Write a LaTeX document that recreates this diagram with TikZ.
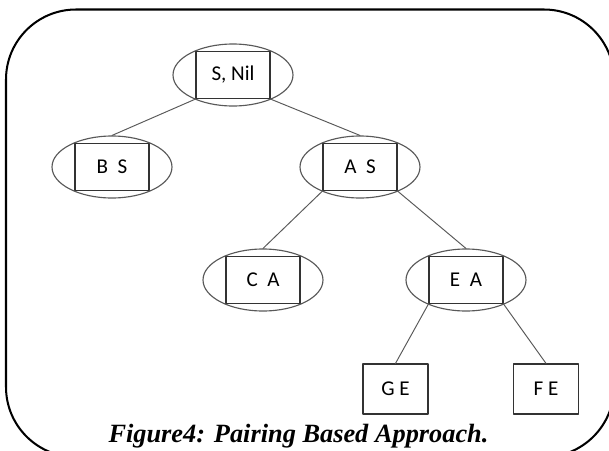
\documentclass[tikz,border=0pt]{standalone}
\usepackage{fontspec}
\setmainfont{Liberation Serif}
\newfontfamily\calib{Carlito}
\usetikzlibrary{shapes.geometric}

\begin{document}
\begin{tikzpicture}[x=0.02cm, y=-0.02cm, line join=round, line cap=round,
	oval/.style={ellipse, draw=black!65, line width=0.65pt, minimum width=2.4cm, minimum height=1.24cm, inner sep=0pt},
	pairbox/.style={draw=black!80, line width=0.7pt, minimum width=1.48cm, minimum height=0.94cm, inner sep=0pt, font=\calib\fontsize{12}{14}\selectfont},
	leafbox/.style={pairbox, minimum width=1.3cm, minimum height=1cm},
	edge/.style={draw=black!65, line width=0.55pt}]
	\useasboundingbox (0,0) rectangle (609,450);
	\begin{scope}
		\clip (0,0) rectangle (609,450);
		\draw[line width=1.15pt, rounded corners=1.4cm] (6,9.5) rectangle (614,457); % khung ngoai
	\end{scope}
	\coordinate (SN) at (233,75);
	\coordinate (BS) at (112,167);
	\coordinate (AS) at (360,167);
	\coordinate (CA) at (263,280);
	\coordinate (EA) at (466,280);
	\coordinate (GE) at (395.5,389);
	\coordinate (FE) at (546,389);
	% cac hinh elip
	\node[oval] (sn-o) at (SN) {};
	\node[oval] (bs-o) at (BS) {};
	\node[oval] (as-o) at (AS) {};
	\node[oval] (ca-o) at (CA) {};
	\node[oval] (ea-o) at (EA) {};
	% cac cap
	\node[pairbox] (sn) at (SN) {S, Nil};
	\node[pairbox] (bs) at (BS) {B~~S};
	\node[pairbox] (as) at (AS) {A~~S};
	\node[pairbox] (ca) at (CA) {C~~A};
	\node[pairbox] (ea) at (EA) {E~~A};
	\node[leafbox] (ge) at (GE) {G E};
	\node[leafbox] (fe) at (FE) {F E};
	% cac canh
	\draw[edge] (sn.south west) -- (bs-o.north);
	\draw[edge] (sn.south east) -- (as-o.north);
	\draw[edge] (as.south west) -- (ca-o.north);
	\draw[edge] (as.south east) -- (ea-o.north);
	\draw[edge] (ea.south west) -- (ge.north);
	\draw[edge] (ea.south east) -- (fe.north);
	\node[anchor=base, font=\fontsize{15}{17}\selectfont\bfseries\itshape] (cap) at (298.5,442) {Figure4: Pairing Based Approach.};
\end{tikzpicture}
\end{document}
